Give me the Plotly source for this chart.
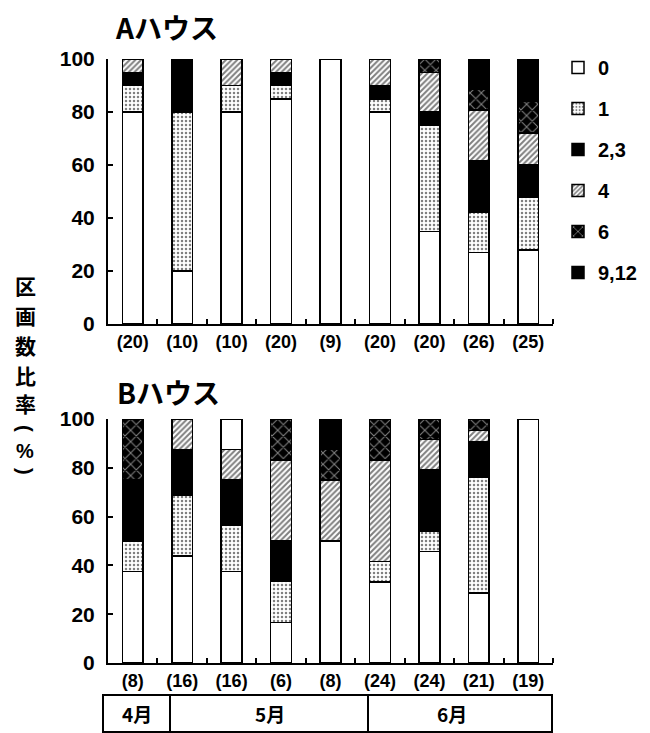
import plotly.graph_objects as go

# ---------------- data ----------------
classes = ["0", "1", "2,3", "4", "6", "9,12"]
positions = list(range(9))

a_counts = ["(20)", "(10)", "(10)", "(20)", "(9)", "(20)", "(20)", "(26)", "(25)"]
a_0 = [80, 20, 80, 85, 100, 80, 35, 26.9, 28]
a_1 = [10, 60, 10, 5, 0, 5, 40, 15.4, 20]
a_23 = [5, 20, 0, 5, 0, 5, 5, 19.2, 12]
a_4 = [5, 0, 10, 5, 0, 10, 15, 19.2, 12]
a_6 = [0, 0, 0, 0, 0, 0, 5, 7.7, 12]
a_912 = [0, 0, 0, 0, 0, 0, 0, 11.5, 16]

b_counts = ["(8)", "(16)", "(16)", "(6)", "(8)", "(24)", "(24)", "(21)", "(19)"]
b_0 = [37.5, 43.8, 37.5, 16.7, 50, 33.3, 45.8, 28.6, 100]
b_1 = [12.5, 25, 18.8, 16.7, 0, 8.3, 8.3, 47.6, 0]
b_23 = [25, 18.7, 18.7, 16.6, 0, 0, 25, 14.3, 0]
b_4 = [0, 12.5, 12.5, 33.3, 25, 41.7, 12.5, 4.8, 0]
b_6 = [25, 0, 0, 16.7, 12.5, 16.7, 8.4, 4.7, 0]
b_912 = [0, 0, 0, 0, 12.5, 0, 0, 0, 0]
b_other = [0, 0, 12.5, 0, 0, 0, 0, 0, 0]

months = ["4月", "5月", "6月"]
yticks = [0, 20, 40, 60, 80, 100]

# ---------------- styles ----------------
NUM = "Liberation Sans"
JP = "Noto Sans CJK JP"
styles = {
    "0": dict(color="white"),
    "1": dict(color="white", pattern=dict(shape=".", fgcolor="black", bgcolor="white", size=4, solidity=0.3, fillmode="overlay")),
    "2,3": dict(color="black"),
    "4": dict(color="white", pattern=dict(shape="/", fgcolor="black", bgcolor="white", size=4, solidity=0.5, fillmode="overlay")),
    "6": dict(color="black", pattern=dict(shape="x", fgcolor="white", bgcolor="black", size=8, solidity=0.25, fillmode="overlay")),
    "9,12": dict(color="black"),
}

fig = go.Figure()

a_series = [a_0, a_1, a_23, a_4, a_6, a_912]
b_series = [b_0, b_1, b_23, b_4, b_6, b_912]

for name, vals in zip(classes, a_series):
    fig.add_trace(go.Bar(x=positions, y=vals, name=name, legendgroup=name,
                         marker=dict(line=dict(color="black", width=1.5), **styles[name]),
                         xaxis="x", yaxis="y", showlegend=True))
for name, vals in zip(classes, b_series):
    fig.add_trace(go.Bar(x=positions, y=vals, name=name, legendgroup=name,
                         marker=dict(line=dict(color="black", width=1.5), **styles[name]),
                         xaxis="x2", yaxis="y2", showlegend=False))
fig.add_trace(go.Bar(x=positions, y=b_other, name="", marker=dict(color="white", line=dict(color="black", width=1.5)),
                     xaxis="x2", yaxis="y2", showlegend=False))

L, R, T, B = 108, 97, 59, 70
W, H = 650, 733
ph = H - T - B
def py(pix):
    return (H - B - pix) / ph
def px(pix):
    return (pix - L) / (W - L - R)

xcommon = dict(range=[-0.5, 8.5], tickvals=positions, ticks="", showline=True, linecolor="black", linewidth=2,
               tickfont=dict(family=NUM, size=18, color="black", weight="bold"), ticklabelstandoff=0,
               minor=dict(tickmode="array", tickvals=[p + 0.5 for p in positions], ticks="inside", ticklen=5,
                          tickcolor="black", tickwidth=1.5),
               showgrid=False, zeroline=False, fixedrange=True)
ycommon = dict(range=[0, 100], tickvals=yticks, ticks="inside", ticklen=5, tickwidth=1.5, tickcolor="black",
               showline=True, linecolor="black", linewidth=2, showgrid=False, zeroline=False,
               tickfont=dict(family=NUM, size=21, color="black", weight="bold"), ticklabelstandoff=7)

fig.update_layout(
    width=W, height=H, margin=dict(l=L, r=R, t=T, b=B, pad=0, autoexpand=False),
    paper_bgcolor="white", plot_bgcolor="white",
    barmode="stack", bargap=0.58,
    xaxis=dict(xcommon, ticktext=a_counts, anchor="y"),
    yaxis=dict(ycommon, domain=[py(324), 1], anchor="x"),
    xaxis2=dict(xcommon, ticktext=b_counts, anchor="y2"),
    yaxis2=dict(ycommon, domain=[0, py(419)], anchor="x2"),
    legend=dict(x=px(558), y=py(48), xanchor="left", yanchor="top", traceorder="grouped",
                tracegroupgap=12, font=dict(family=NUM, size=20, color="black", weight="bold"),
                bgcolor="rgba(0,0,0,0)"),
    showlegend=True,
)

ann = []
ann.append(dict(text="Aハウス", x=px(113), y=py(27), xref="paper", yref="paper", xanchor="left", yanchor="middle",
                showarrow=False, font=dict(family=JP, size=28, color="black", weight="bold")))
ann.append(dict(text="Bハウス", x=px(115), y=py(392), xref="paper", yref="paper", xanchor="left", yanchor="middle",
                showarrow=False, font=dict(family=JP, size=28, color="black", weight="bold")))
ylab_chars = ["区", "画", "数", "比", "率"]
ylab_pos = [285, 315, 345, 375, 403]
for ch, yy in zip(ylab_chars, ylab_pos):
    ann.append(dict(text=ch, x=px(25), y=py(yy), xref="paper", yref="paper", xanchor="center", yanchor="middle",
                    showarrow=False, font=dict(family=JP, size=21, color="black", weight="bold")))
# rotated parentheses and percent sign
for ch, yy, ang in [("(", 428, 90), ("%", 451, 0), (")", 471, 90)]:
    ann.append(dict(text=ch, x=px(25), y=py(yy), xref="paper", yref="paper", xanchor="center", yanchor="middle",
                    showarrow=False, textangle=ang,
                    font=dict(family=NUM, size=20, color="black", weight="bold")))
month_x = [137, 270, 452]
for m, xx in zip(months, month_x):
    ann.append(dict(text=m, x=px(xx), y=py(713), xref="paper", yref="paper", xanchor="center", yanchor="middle",
                    showarrow=False, font=dict(family=JP, size=19, color="black", weight="bold")))
fig.update_layout(annotations=ann)

shapes = [
    dict(type="rect", xref="paper", yref="paper", x0=px(103), x1=px(552), y0=py(732), y1=py(695),
         line=dict(color="black", width=2)),
    dict(type="line", xref="paper", yref="paper", x0=px(170), x1=px(170), y0=py(732), y1=py(695),
         line=dict(color="black", width=2)),
    dict(type="line", xref="paper", yref="paper", x0=px(368), x1=px(368), y0=py(732), y1=py(695),
         line=dict(color="black", width=2)),
]
fig.update_layout(shapes=shapes)

fig.write_html("out.html")
